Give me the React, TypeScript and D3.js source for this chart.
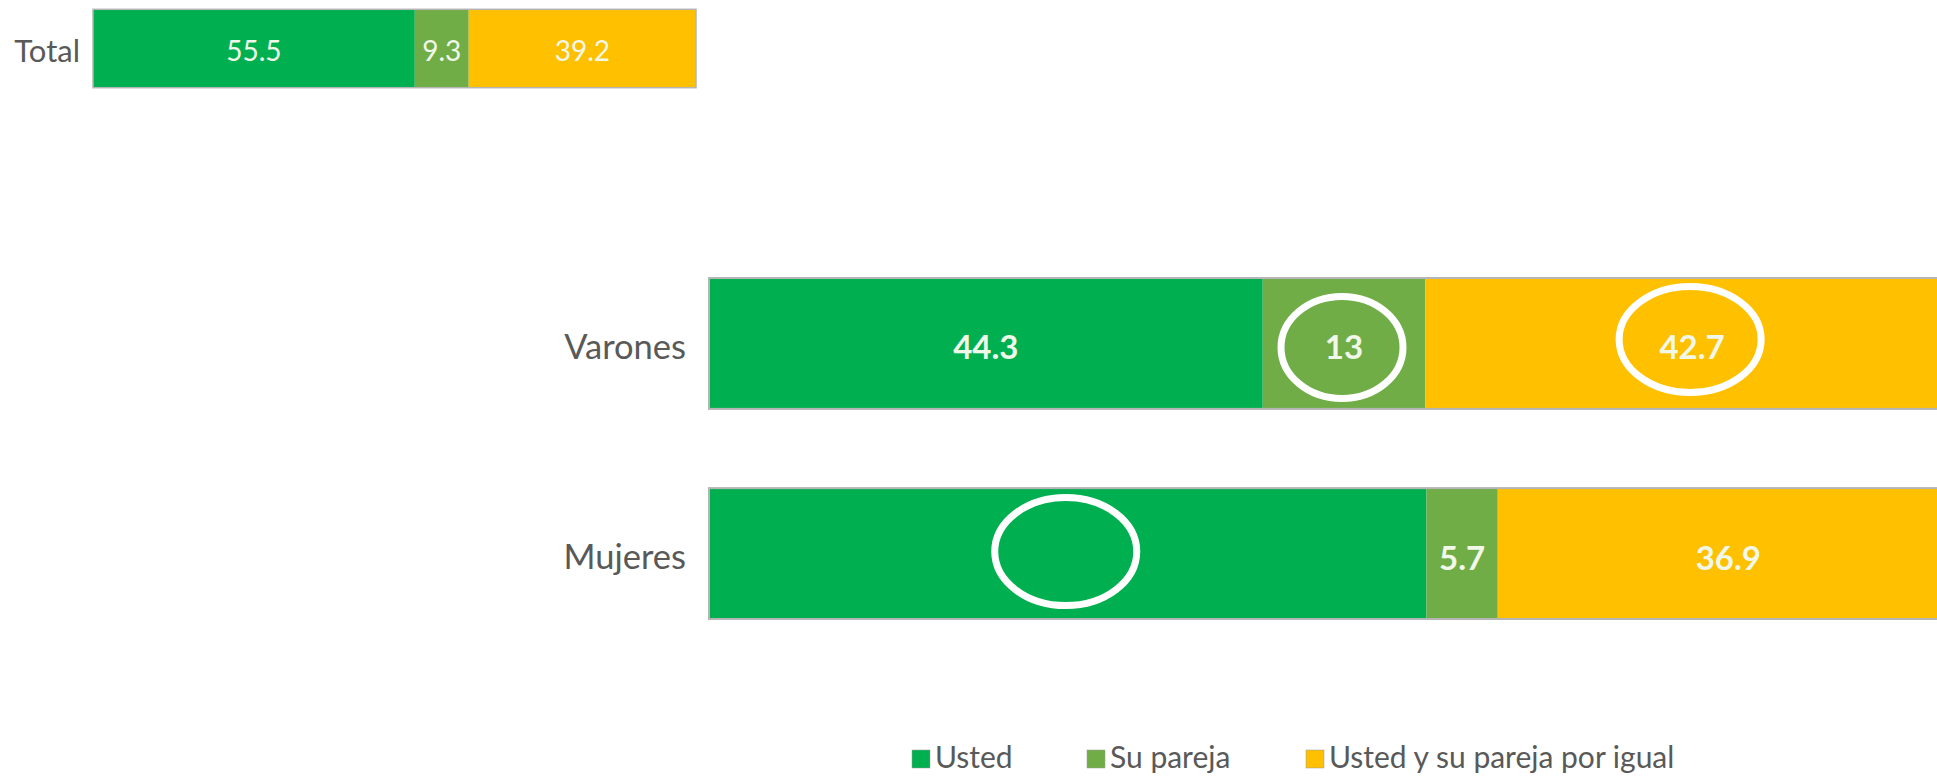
import React from "react";
import * as d3 from "d3";

// ---- data ----
const seriesNames = ["Usted", "Su pareja", "Usted y su pareja por igual"];
const seriesColors = ["#00B050", "#70AD47", "#FFC000"];

const totalCategories = ["Total"];
const totalUsted = [55.5];
const totalPareja = [9.3];
const totalIgual = [39.2];

const categories = ["Varones", "Mujeres"];
const usted = [44.3, 57.4];
const pareja = [13, 5.7];
const igual = [42.7, 36.9];

// labels that are not printed in the original (category, series index)
const hiddenLabels = [{ category: "Mujeres", series: 0 }];
// highlighted cells (white rings in the original)
const highlighted = [
  { category: "Varones", series: 1, rx: 61, ry: 51, dy: 4 },
  { category: "Varones", series: 2, rx: 71, ry: 53, dy: -4 },
  { category: "Mujeres", series: 0, rx: 71, ry: 54, dy: -2 },
];

const FONT = "Lato, 'Open Sans', sans-serif";
const TEXT = "#595959";
const LABEL = "#F1F8EA";

type Seg = { cat: string; s: number; x0: number; x1: number; v: number };

function stack(cats: string[], cols: number[][]): Seg[] {
  const rows = cats.map((c, i) => {
    const r: any = { cat: c };
    cols.forEach((col, s) => (r["s" + s] = col[i]));
    return r;
  });
  const st = d3.stack<any>().keys(cols.map((_, s) => "s" + s))(rows);
  const out: Seg[] = [];
  st.forEach((layer, s) =>
    layer.forEach((d) => out.push({ cat: d.data.cat, s, x0: d[0], x1: d[1], v: d[1] - d[0] }))
  );
  return out;
}

export default function App() {
  // Top "Total" chart
  const totSegs = stack(totalCategories, [totalUsted, totalPareja, totalIgual]);
  const totMax = d3.max(totSegs, (d) => d.x1) as number;
  const xT = d3.scaleLinear().domain([0, totMax]).range([93, 696]);
  const yT = d3.scaleBand().domain(totalCategories).range([9.3, 87.7]);

  // Main chart
  const segs = stack(categories, [usted, pareja, igual]);
  const x = d3.scaleLinear().domain([0, 100]).range([709, 1959]);
  const y = d3.scaleBand().domain(categories).range([278, 619]).paddingInner(0.377).paddingOuter(0);

  const isHidden = (c: string, s: number) => hiddenLabels.some((h) => h.category === c && h.series === s);

  const legendX = [912, 1087, 1306];

  return (
    <svg
      width={1937}
      height={776}
      style={{ position: "fixed", left: 0, top: 0, background: "#fff" }}
      fontFamily={FONT}
    >
      <rect width={1937} height={776} fill="#fff" />

      {/* Total chart */}
      {totalCategories.map((c) => (
        <text
          key={c}
          x={xT(0) - 13}
          y={(yT(c) as number) + yT.bandwidth() / 2 + 1}
          textAnchor="end"
          dominantBaseline="central"
          fontSize={31}
          fill={TEXT}
        >
          {c}
        </text>
      ))}
      {totSegs.map((d, i) => (
        <rect
          key={"t" + i}
          x={xT(d.x0)}
          y={yT(d.cat) as number}
          width={xT(d.x1) - xT(d.x0)}
          height={yT.bandwidth()}
          fill={seriesColors[d.s]}
        />
      ))}
      {totalCategories.map((c) => (
        <rect
          key={"to" + c}
          x={xT(0)}
          y={yT(c) as number}
          width={xT(totMax) - xT(0)}
          height={yT.bandwidth()}
          fill="none"
          stroke="#b5b5b5"
          strokeWidth={1.5}
        />
      ))}
      {totSegs.map((d, i) => (
        <text
          key={"tl" + i}
          x={(xT(d.x0) + xT(d.x1)) / 2}
          y={(yT(d.cat) as number) + yT.bandwidth() / 2 + 1}
          textAnchor="middle"
          dominantBaseline="central"
          fontSize={28}
          fill={LABEL}
        >
          {d3.format("~g")(d.v)}
        </text>
      ))}

      {/* Main chart */}
      {categories.map((c) => (
        <text
          key={c}
          x={x(0) - 23}
          y={(y(c) as number) + y.bandwidth() / 2 + 2}
          textAnchor="end"
          dominantBaseline="central"
          fontSize={34.5}
          fill={TEXT}
        >
          {c}
        </text>
      ))}
      {segs.map((d, i) => (
        <rect
          key={"m" + i}
          x={x(d.x0)}
          y={y(d.cat) as number}
          width={x(d.x1) - x(d.x0)}
          height={y.bandwidth()}
          fill={seriesColors[d.s]}
        />
      ))}
      {categories.map((c) => (
        <rect
          key={"mo" + c}
          x={x(0)}
          y={y(c) as number}
          width={x(100) - x(0)}
          height={y.bandwidth()}
          fill="none"
          stroke="#b5b5b5"
          strokeWidth={2}
        />
      ))}
      {segs
        .filter((d) => !isHidden(d.cat, d.s))
        .map((d, i) => (
          <text
            key={"ml" + i}
            x={(x(d.x0) + x(d.x1)) / 2}
            y={(y(d.cat) as number) + y.bandwidth() / 2 + 3}
            textAnchor="middle"
            dominantBaseline="central"
            fontSize={33}
            fontWeight={700}
            fill={LABEL}
          >
            {d3.format("~g")(d.v)}
          </text>
        ))}
      {highlighted.map((h, i) => {
        const d = segs.find((s) => s.cat === h.category && s.s === h.series)!;
        return (
          <ellipse
            key={"e" + i}
            cx={(x(d.x0) + x(d.x1)) / 2 - 2}
            cy={(y(d.cat) as number) + y.bandwidth() / 2 + h.dy}
            rx={h.rx}
            ry={h.ry}
            fill="none"
            stroke="#fff"
            strokeWidth={7}
          />
        );
      })}

      {/* Legend */}
      {seriesNames.map((n, i) => (
        <g key={n} transform={`translate(${legendX[i]},750)`}>
          <rect x={0} y={0} width={18} height={18} fill={seriesColors[i]} stroke="#9a9a9a" strokeWidth={0.5} />
          <text x={23} y={18} fontSize={30} fill={TEXT}>
            {n}
          </text>
        </g>
      ))}
    </svg>
  );
}
